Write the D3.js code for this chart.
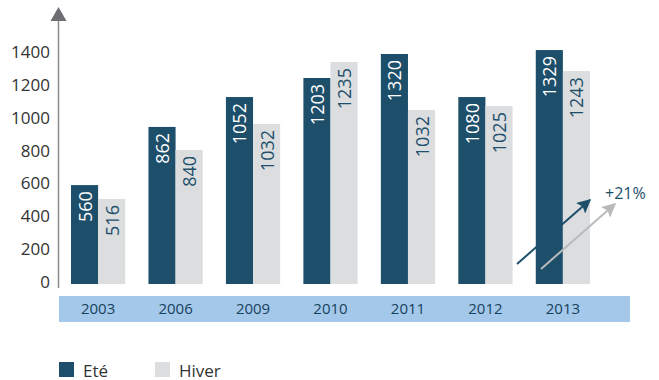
<!DOCTYPE html>
<html>
<head>
<meta charset="utf-8">
<script src="https://cdn.jsdelivr.net/npm/d3@7"></script>
<style>
  body { margin: 0; background: #fff; }
  svg { display: block; font-family: "Open Sans", sans-serif; }
</style>
</head>
<body>
<div id="chart"></div>
<script>
// data
var years = ["2003", "2006", "2009", "2010", "2011", "2012", "2013"];
var ete = [602, 956, 1138, 1254, 1400, 1138, 1424];
var hiver = [517, 816, 974, 1351, 1059, 1083, 1296];
var eteLabels = ["560", "862", "1052", "1203", "1320", "1080", "1329"];
var hiverLabels = ["516", "840", "1032", "1235", "1032", "1025", "1243"];
var yTicks = [0, 200, 400, 600, 800, 1000, 1200, 1400];
var seriesNames = ["Eté", "Hiver"];
var growthLabel = "+21%";

var dark = "#1d4f6b", light = "#dcdddf", strip = "#a3c8ea";

var width = 659, height = 380;
var svg = d3.select("#chart")
    .append("svg")
    .attr("width", width)
    .attr("height", height);

// scales
var x = d3.scaleBand()
    .domain(years)
    .range([71, 590])
    .paddingInner(0.3)
    .paddingOuter(0);
var xs = d3.scaleBand()
    .domain(seriesNames)
    .range([0, x.bandwidth()]);
var y = d3.scaleLinear()
    .domain([0, 1400])
    .range([284, 54]);

var rows = years.map(function (yr, i) {
    return [
        { year: yr, key: "Eté", value: ete[i], label: eteLabels[i] },
        { year: yr, key: "Hiver", value: hiver[i], label: hiverLabels[i] }
    ];
});

// bars
var groups = svg.selectAll("g.year")
    .data(rows)
    .enter()
    .append("g")
    .attr("class", "year")
    .attr("transform", function (d) { return "translate(" + x(d[0].year) + ",0)"; });

groups.selectAll("rect")
    .data(function (d) { return d; })
    .enter()
    .append("rect")
    .attr("x", function (d) { return xs(d.key); })
    .attr("y", function (d) { return y(d.value); })
    .attr("width", xs.bandwidth())
    .attr("height", function (d) { return y(0) - y(d.value); })
    .attr("fill", function (d) { return d.key === "Eté" ? dark : light; });

// value labels inside the bars, rotated
groups.selectAll("text")
    .data(function (d) { return d; })
    .enter()
    .append("text")
    .attr("transform", function (d) {
        return "translate(" + (xs(d.key) + xs.bandwidth() / 2) + "," + (y(d.value) + 6) + ")rotate(-90)";
    })
    .attr("text-anchor", "end")
    .attr("dominant-baseline", "central")
    .attr("font-size", 18)
    .attr("fill", function (d) { return d.key === "Eté" ? "#fff" : dark; })
    .text(function (d) { return d.label; });

// y axis
var yAxis = svg.append("g")
    .attr("transform", "translate(50,-2)")
    .call(d3.axisLeft(y).tickValues(yTicks).tickSize(0).tickPadding(0).tickFormat(d3.format("d")));
yAxis.select(".domain").remove();
yAxis.selectAll("text")
    .attr("font-family", "Open Sans, sans-serif")
    .attr("font-size", 17)
    .attr("fill", "#333");

svg.append("line")
    .attr("x1", 58.5).attr("x2", 58.5)
    .attr("y1", 20).attr("y2", 288)
    .attr("stroke", "#8a8b8d")
    .attr("stroke-width", 1.5);
svg.append("path")
    .attr("d", "M50.5,21 L58.5,7 L66.5,21 Z")
    .attr("fill", "#6d6e71");

// category strip
svg.append("rect")
    .attr("x", 59).attr("y", 296)
    .attr("width", 571).attr("height", 26)
    .attr("fill", strip);
var xAxis = svg.append("g")
    .attr("transform", "translate(0,309)")
    .call(d3.axisBottom(x).tickSize(0).tickPadding(0));
xAxis.select(".domain").remove();
xAxis.selectAll("text")
    .attr("dy", "0.35em")
    .attr("font-family", "Open Sans, sans-serif")
    .attr("font-size", 15)
    .attr("fill", "#17425c");

// growth arrows
var defs = svg.append("defs");
[["dark", dark], ["grey", "#b9babc"]].forEach(function (m) {
    defs.append("marker")
        .attr("id", "head-" + m[0])
        .attr("viewBox", "0 0 10 10")
        .attr("refX", 9).attr("refY", 5)
        .attr("markerWidth", 7).attr("markerHeight", 7)
        .attr("markerUnits", "strokeWidth")
        .attr("orient", "auto")
        .append("path")
        .attr("d", "M0,0 L10,5 L0,10 L2,5 Z")
        .attr("fill", m[1]);
});
svg.append("line")
    .attr("x1", 517).attr("y1", 264)
    .attr("x2", 590).attr("y2", 200)
    .attr("stroke", dark).attr("stroke-width", 2)
    .attr("marker-end", "url(#head-dark)");
svg.append("line")
    .attr("x1", 541).attr("y1", 269)
    .attr("x2", 615).attr("y2", 204)
    .attr("stroke", "#b9babc").attr("stroke-width", 2)
    .attr("marker-end", "url(#head-grey)");
svg.append("text")
    .attr("x", 605).attr("y", 199)
    .attr("font-size", 16)
    .attr("fill", dark)
    .text(growthLabel);

// legend
var legend = svg.selectAll("g.legend")
    .data(seriesNames)
    .enter()
    .append("g")
    .attr("class", "legend")
    .attr("transform", function (d, i) { return "translate(" + (59 + i * 96) + ",362)"; });
legend.append("rect")
    .attr("width", 15).attr("height", 15)
    .attr("fill", function (d, i) { return i === 0 ? dark : light; });
legend.append("text")
    .attr("x", 24).attr("y", 14.5)
    .attr("font-size", 17)
    .attr("fill", "#333")
    .text(function (d) { return d; });
</script>
</body>
</html>
